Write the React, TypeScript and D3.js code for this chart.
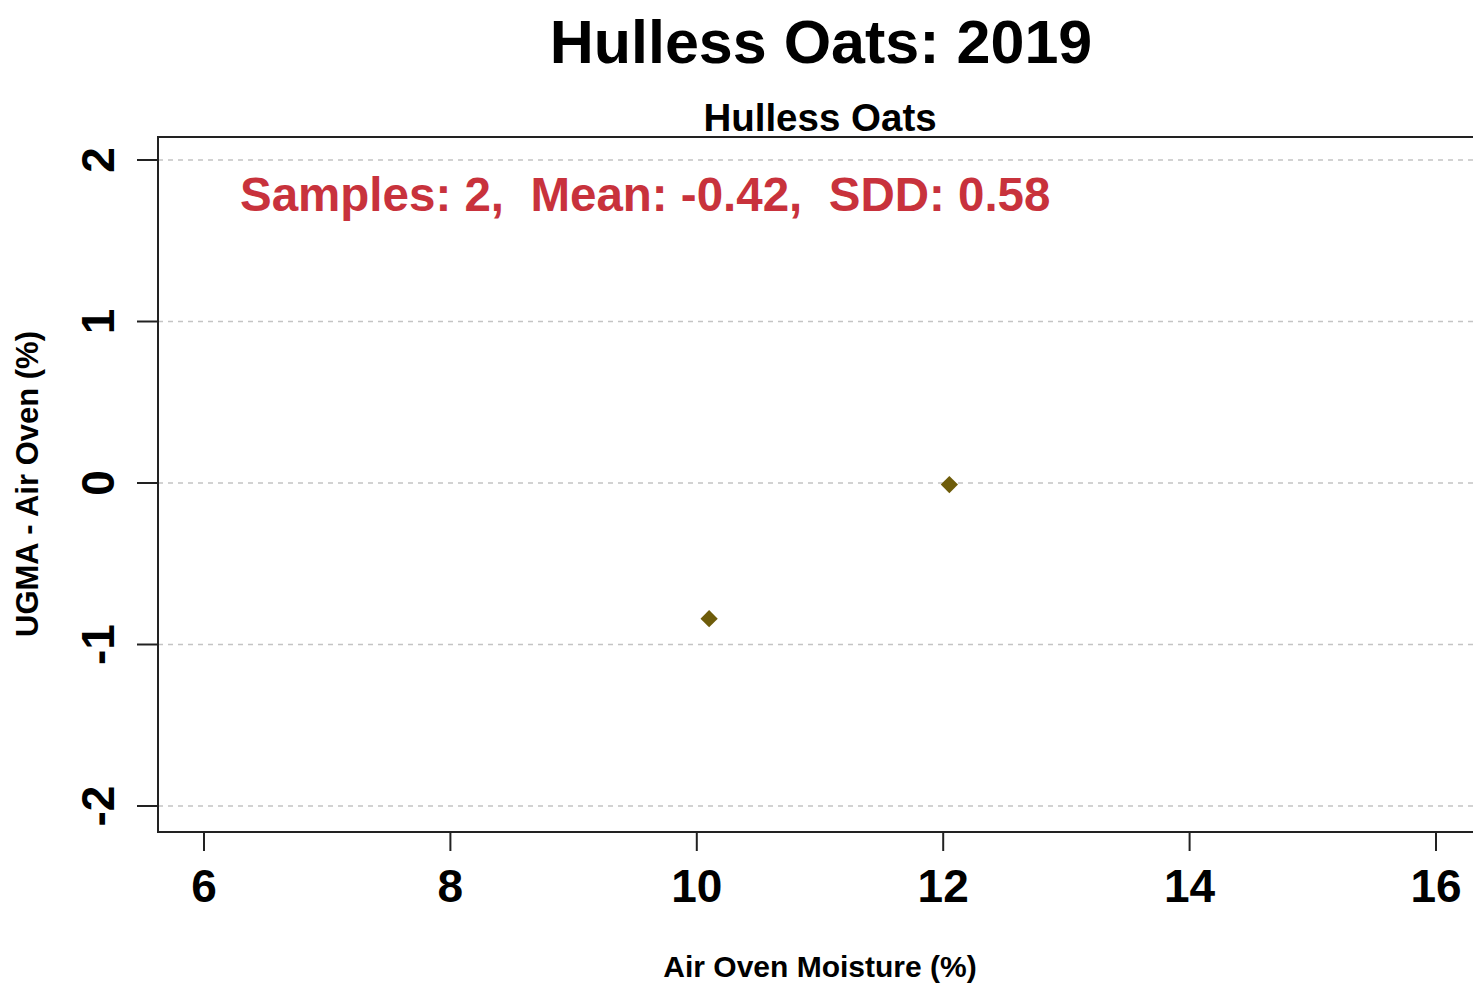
import React from "react";
import * as d3 from "d3";

const xTicks = [6, 8, 10, 12, 14, 16];
const yTicks = [-2, -1, 0, 1, 2];
const moisture = [10.1, 12.05];
const diff = [-0.84, -0.01];
const title = "Hulless Oats: 2019";
const subtitle = "Hulless Oats";
const stats = "Samples: 2,  Mean: -0.42,  SDD: 0.58";

const W = 1473;
const H = 984;

export default function App() {
  const x = d3.scaleLinear().domain([6, 16]).range([204, 1436]);
  const y = d3.scaleLinear().domain([-2, 2]).range([806, 160]);
  const left = 158, top = 137, bottom = 832, right = 1480;
  const font = "'Liberation Sans', Arial, sans-serif";
  const diamond = d3.symbol().type(d3.symbolDiamond2).size(190)();
  return (
    <svg width={W} height={H} style={{ position: "absolute", left: 0, top: 0, background: "#fff" }} fontFamily={font}>
      <rect width={W} height={H} fill="#fff" />
      <text x={821} y={63} textAnchor="middle" fontSize={61} fontWeight="bold">{title}</text>
      <text x={820} y={131} textAnchor="middle" fontSize={38.5} fontWeight="bold">{subtitle}</text>
      {yTicks.map((t) => (
        <line key={"g" + t} x1={left} x2={right} y1={y(t)} y2={y(t)} stroke="#c4c4c4" strokeWidth={1.5} strokeDasharray="5,5" />
      ))}
      <rect x={left} y={top} width={right - left} height={bottom - top} fill="none" stroke="#222" strokeWidth={2} />
      {yTicks.map((t) => (
        <g key={"y" + t}>
          <line x1={left - 21} x2={left} y1={y(t)} y2={y(t)} stroke="#222" strokeWidth={2} />
          <text transform={`translate(${114},${y(t)}) rotate(-90)`} textAnchor="middle" fontSize={46} fontWeight="bold">{t}</text>
        </g>
      ))}
      {xTicks.map((t) => (
        <g key={"x" + t}>
          <line x1={x(t)} x2={x(t)} y1={bottom} y2={bottom + 19} stroke="#222" strokeWidth={2} />
          <text x={x(t)} y={902} textAnchor="middle" fontSize={46} fontWeight="bold">{t}</text>
        </g>
      ))}
      <text transform={`translate(38,484) rotate(-90)`} textAnchor="middle" fontSize={31} fontWeight="bold">UGMA - Air Oven (%)</text>
      <text x={820} y={977} textAnchor="middle" fontSize={30} fontWeight="bold">Air Oven Moisture (%)</text>
      <text x={240} y={211} fontSize={47.5} fontWeight="bold" fill="#c8323c" style={{ whiteSpace: "pre" }}>{stats}</text>
      {moisture.map((m, i) => (
        <path key={"p" + i} d={diamond!} transform={`translate(${x(m)},${y(diff[i])})`} fill="#6e5c0a" />
      ))}
    </svg>
  );
}
